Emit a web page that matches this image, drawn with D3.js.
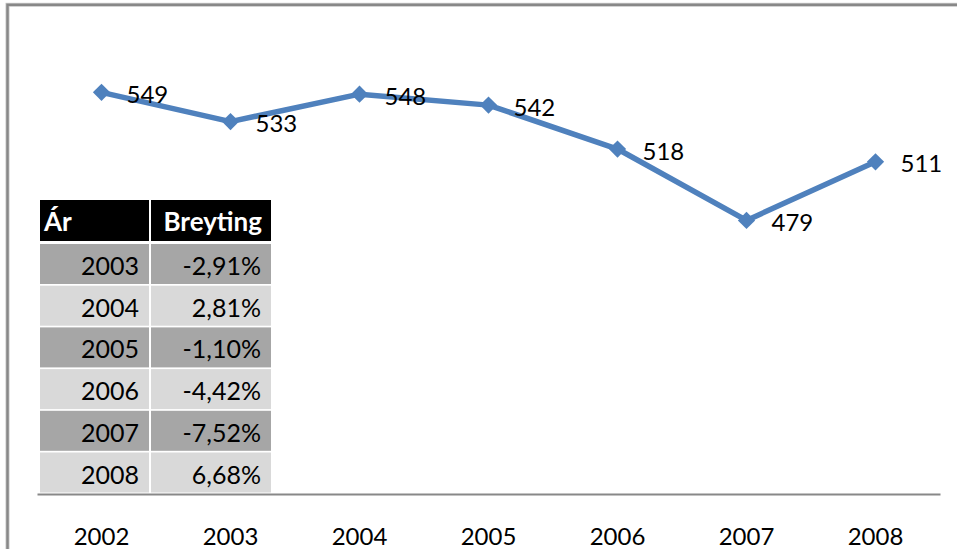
<!DOCTYPE html>
<html><head><meta charset="utf-8">
<script src="https://cdn.jsdelivr.net/npm/d3@7"></script>
<style>html,body{margin:0;padding:0;background:#fff;overflow:hidden}</style>
</head><body>
<svg id="c" width="957" height="549"></svg>
<script>
const years = ["2002","2003","2004","2005","2006","2007","2008"];
const values = [549, 533, 548, 542, 518, 479, 511];
const tableYears = ["2003","2004","2005","2006","2007","2008"];
const tableChanges = ["-2,91%","2,81%","-1,10%","-4,42%","-7,52%","6,68%"];
const tableHeader = ["Ár","Breyting"];

const FONT = "Lato, 'Open Sans', sans-serif";
const svg = d3.select("#c");

// outer frame
svg.append("rect").attr("x",7.5).attr("y",4.8).attr("width",1000).attr("height",600)
  .attr("fill","none").attr("stroke","#c8c8c8").attr("stroke-width",4);
svg.append("rect").attr("x",7.5).attr("y",4.8).attr("width",1000).attr("height",600)
  .attr("fill","none").attr("stroke","#888").attr("stroke-width",2.4);

const x = d3.scaleBand().domain(years).range([37, 940]);
const y = d3.scaleLinear().domain([330, 600]).range([493, -1]);

// x axis
const xAxis = d3.axisBottom(x).tickSize(0).tickPadding(0);
const gx = svg.append("g").attr("transform","translate(0,494)").call(xAxis);
gx.select(".domain").attr("stroke","#888").attr("stroke-width",2.2);
gx.selectAll("text").attr("font-family",FONT).attr("font-size",24).attr("fill","#000")
  .attr("y",0).attr("dy",0).attr("transform","translate(0,51)");

const cx = d => x(d) + x.bandwidth()/2;

// table
const colX = [40, 151];
const colW = [109, 120];
const rowY0 = 200, rowH = 41.7, cellH = 40;
const tg = svg.append("g");
tg.selectAll("rect.h").data(tableHeader).join("rect")
  .attr("x",(d,i)=>colX[i]).attr("y",rowY0).attr("width",(d,i)=>colW[i]).attr("height",cellH+1)
  .attr("fill","#000");
tg.append("text").attr("x",colX[0]+4).attr("y",rowY0+21).attr("dominant-baseline","central")
  .attr("font-family",FONT).attr("font-weight","bold").attr("font-size",26).attr("fill","#fff").text(tableHeader[0]);
tg.append("text").attr("x",colX[1]+colW[1]-9).attr("y",rowY0+21).attr("dominant-baseline","central")
  .attr("text-anchor","end")
  .attr("font-family",FONT).attr("font-weight","bold").attr("font-size",26).attr("fill","#fff").text(tableHeader[1]);

tableYears.forEach((yr,i)=>{
  const top = 244 + i*rowH;
  const fill = i%2===0 ? "#a6a6a6" : "#d9d9d9";
  [yr, tableChanges[i]].forEach((t,j)=>{
    tg.append("rect").attr("x",colX[j]).attr("y",top).attr("width",colW[j]).attr("height",cellH)
      .attr("fill",fill);
    tg.append("text").attr("x",colX[j]+colW[j]-10).attr("y",top+cellH/2+1)
      .attr("dominant-baseline","central").attr("text-anchor","end")
      .attr("font-family",FONT).attr("font-size",25).attr("fill","#000").text(t);
  });
});

// line
const line = d3.line().x((d,i)=>cx(years[i])).y(d=>y(d));
svg.append("path").datum(values).attr("d",line).attr("fill","none")
  .attr("stroke","#4f81bd").attr("stroke-width",5.5).attr("stroke-linejoin","round");

svg.selectAll("path.mk").data(values).join("path")
  .attr("d", d3.symbol().type(d3.symbolDiamond2 || d3.symbolSquare2).size(190))
  .attr("transform",(d,i)=>`translate(${cx(years[i])},${y(d)}) rotate(${d3.symbolDiamond2?0:45})`)
  .attr("fill","#4f81bd");

svg.selectAll("text.lbl").data(values).join("text").attr("class","lbl")
  .attr("x",(d,i)=>cx(years[i])+25).attr("y",d=>y(d)+1)
  .attr("dominant-baseline","central")
  .attr("font-family",FONT).attr("font-size",24).attr("fill","#000").text(d=>d);
</script>
</body></html>
